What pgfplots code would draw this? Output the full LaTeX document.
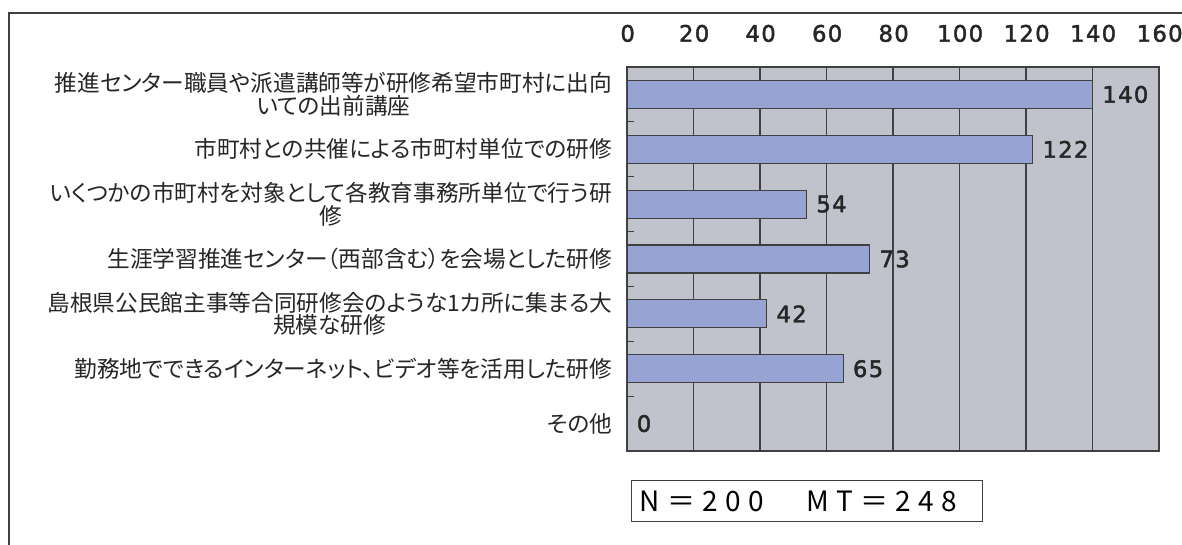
\documentclass[border=0pt]{standalone}
\usepackage{pgfplots}
\pgfplotsset{compat=1.18}
\usepackage{fontspec}
\setmainfont{Noto Sans CJK JP}
\newfontfamily\labelfont[RawFeature=+palt]{Noto Sans CJK JP}
\newfontfamily\numfont[LetterSpace=6, FakeBold=2]{DejaVu Sans}
\newfontfamily\boxfont[LetterSpace=26]{Noto Sans CJK JP}

\definecolor{plotbg}{RGB}{192,195,204}
\definecolor{barfill}{RGB}{151,163,211}
\definecolor{gridc}{RGB}{64,64,64}

\begin{document}
\begin{tikzpicture}
\path[use as bounding box] (0,0) rectangle (886.5pt,408.75pt);
\draw[gridc, line width=1pt] (6.75pt,0) -- (6.75pt,399pt) -- (886.5pt,399pt);

\begin{axis}[
  at={(470.25pt,70.5pt)}, anchor=south west,
  scale only axis, width=399pt, height=288pt,
  /pgf/number format/assume math mode=true,
  xbar, bar width=21pt,
  xmin=0, xmax=160, xtick={0,20,...,160},
  xticklabel pos=top,
  xmajorgrids,
  grid style={gridc, line width=0.8pt},
  axis line style={gridc, line width=0.8pt},
  axis background/.style={fill=plotbg},
  xtick style={draw=none},
  xticklabel style={font=\numfont\fontsize{17}{17}\selectfont,
    anchor=base, yshift=19pt, xshift=0.5pt, text=black!85},
  ymin=-0.5, ymax=6.5, y dir=reverse,
  ytick={0.5,1.5,...,5.5}, yticklabels={},
  ytick pos=left, tick align=inside,
  major tick length=5pt,
  ytick style={gridc, line width=0.8pt},
  extra y ticks={0,1,2,3,4,5,6},
  extra y tick labels={
    {推進センター職員や派遣講師等が研修希望市町村に出向\\いての出前講座},
    {市町村との共催による市町村単位での研修},
    {いくつかの市町村を対象として各教育事務所単位で行う研\\修},
    {生涯学習推進センター（西部含む）を会場とした研修},
    {島根県公民館主事等合同研修会のような1カ所に集まる大\\規模な研修},
    {勤務地でできるインターネット、ビデオ等を活用した研修},
    {その他}},
  extra y tick style={major tick length=0pt, ymajorgrids=false,
    yticklabel style={align=center, anchor=east, inner sep=0pt, xshift=-11pt,
      font=\labelfont\fontsize{17}{17}\selectfont, text=black!85}},
  nodes near coords,
  every node near coord/.append style={font=\numfont\fontsize{17}{17}\selectfont,
    anchor=west, inner sep=0pt, xshift=7pt, text=black!85},
]
\addplot[fill=barfill, draw=gridc, line width=0.8pt]
  coordinates {(140,0) (122,1) (54,2) (73,3) (42,4) (65,5) (0,6)};
\end{axis}

\node[draw=gridc, line width=0.8pt, anchor=south west, minimum width=263.25pt,
  minimum height=30.75pt, inner xsep=6pt, text width=251pt, align=left,
  font=\boxfont\fontsize{21}{21}\selectfont]
  at (473.25pt,17.25pt) {N＝200　MT＝248};
\end{tikzpicture}
\end{document}
